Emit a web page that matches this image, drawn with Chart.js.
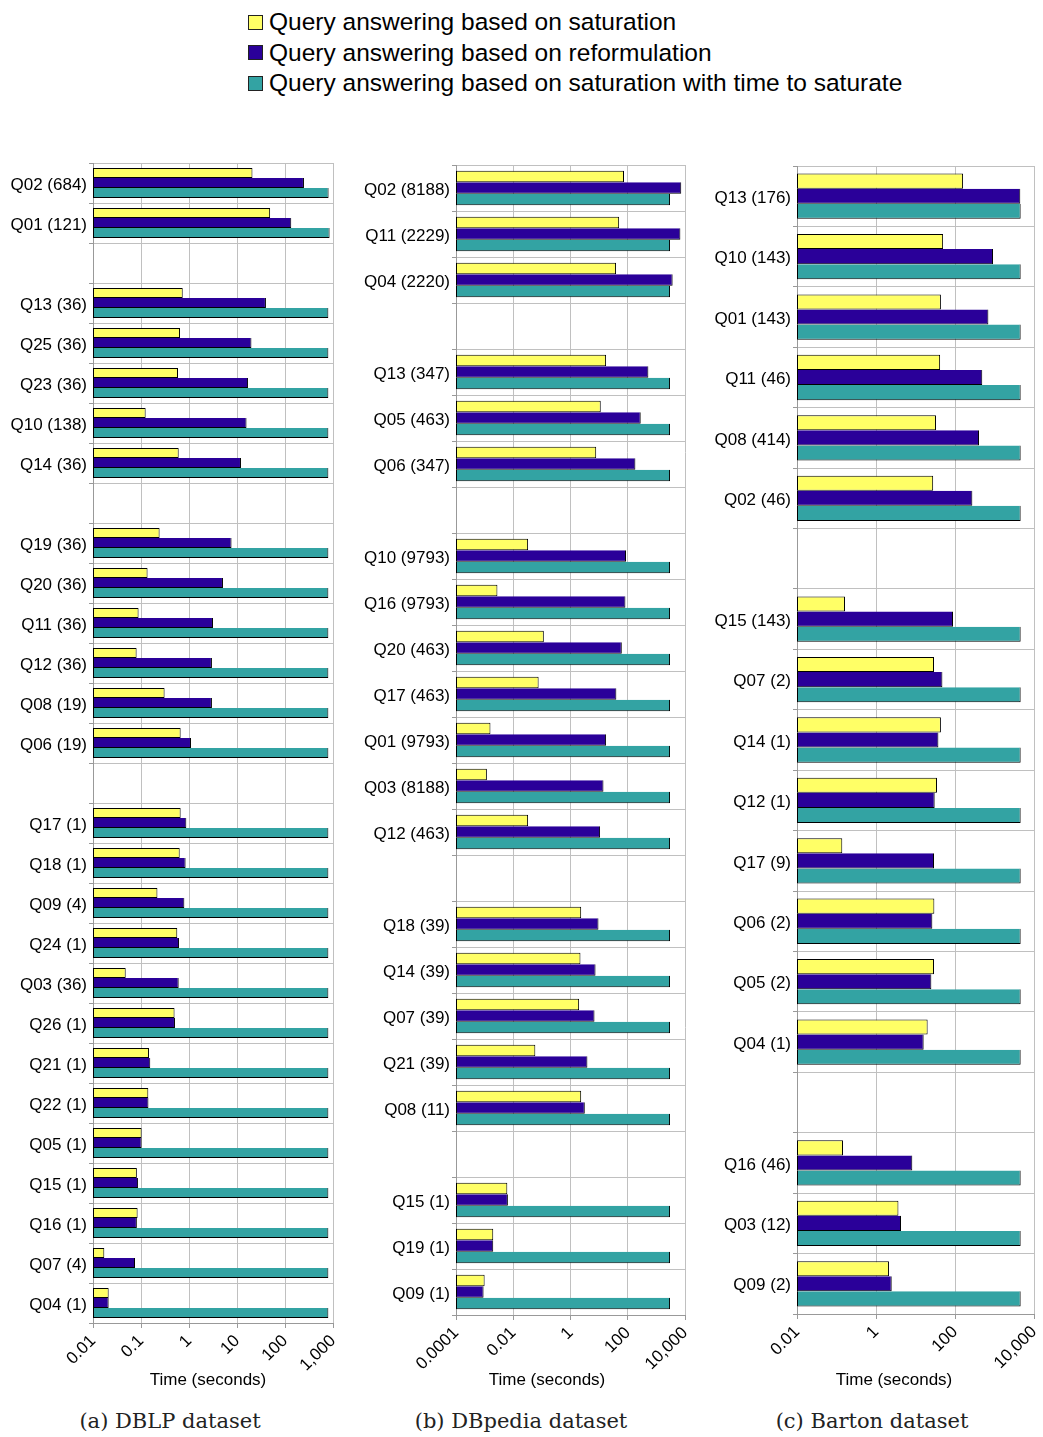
<!DOCTYPE html>
<html>
<head>
<meta charset="utf-8">
<script src="https://cdn.jsdelivr.net/npm/chart.js@4/dist/chart.umd.min.js"></script>
<style>
  html, body { margin: 0; padding: 0; background: #fff; }
  body { width: 1043px; height: 1437px; position: relative; overflow: hidden;
         font-family: "Liberation Sans", Arial, sans-serif; }
  canvas { position: absolute; top: 0; }
  .legend { position: absolute; left: 248px; top: 7px; font-size: 24.5px; color: #000; }
  .legend div { height: 30.5px; display: flex; align-items: center; white-space: nowrap; }
  .legend .box { width: 13px; height: 13px; border: 1px solid #222; margin-right: 6px; flex: none; }
  .axis-title { position: absolute; top: 1369px; line-height: 22px; font-size: 17px; color: #000;
                white-space: nowrap; transform: translateX(-50%); }
  .caption { position: absolute; top: 1408px; line-height: 26px; font-family: "DejaVu Serif", serif;
             font-size: 21px; color: #222; white-space: nowrap; transform: translateX(-50%); }
</style>
</head>
<body>
<div class="legend" id="legend"></div>
<canvas id="dblp"></canvas>
<canvas id="dbpedia"></canvas>
<canvas id="barton"></canvas>
<div class="axis-title" style="left:208px">Time (seconds)</div>
<div class="axis-title" style="left:547px">Time (seconds)</div>
<div class="axis-title" style="left:894px">Time (seconds)</div>
<div class="caption" style="left:170px">(a) DBLP dataset</div>
<div class="caption" style="left:521px">(b) DBpedia dataset</div>
<div class="caption" style="left:872px">(c) Barton dataset</div>
<script>
// Series shared by the three panels
const seriesNames = [
  'Query answering based on saturation',
  'Query answering based on reformulation',
  'Query answering based on saturation with time to saturate'
];
const seriesColors = ['#ffff66', '#2a0099', '#33a3a3'];

// (a) DBLP — query (number of reformulations); empty labels separate the groups
const dblpLabels = ['Q02 (684)', 'Q01 (121)', '', 'Q13 (36)', 'Q25 (36)', 'Q23 (36)', 'Q10 (138)', 'Q14 (36)', '',
  'Q19 (36)', 'Q20 (36)', 'Q11 (36)', 'Q12 (36)', 'Q08 (19)', 'Q06 (19)', '',
  'Q17 (1)', 'Q18 (1)', 'Q09 (4)', 'Q24 (1)', 'Q03 (36)', 'Q26 (1)', 'Q21 (1)', 'Q22 (1)', 'Q05 (1)',
  'Q15 (1)', 'Q16 (1)', 'Q07 (4)', 'Q04 (1)'];
const dblpSaturation = [21, 49, null, 0.74, 0.65, 0.59, 0.125, 0.61, null,
  0.244, 0.137, 0.089, 0.081, 0.31, 0.67, null,
  0.67, 0.64, 0.22, 0.57, 0.048, 0.50, 0.147, 0.142, 0.103, 0.082, 0.085, 0.0172, 0.0212];
const dblpReformulation = [248, 135, null, 40, 20, 17, 15.8, 12.1, null,
  7.7, 5.1, 3.16, 3.0, 3.0, 1.10, null,
  0.88, 0.85, 0.80, 0.62, 0.61, 0.51, 0.156, 0.143, 0.103, 0.087, 0.082, 0.075, 0.0212];
const dblpWithSaturate = [810, 850, null, 800, 800, 800, 800, 800, null,
  800, 800, 800, 800, 800, 800, null,
  800, 800, 800, 800, 800, 800, 800, 800, 800, 800, 800, 800, 800];
const dblpTicks = [0.01, 0.1, 1, 10, 100, 1000];

// (b) DBpedia
const dbpediaLabels = ['Q02 (8188)', 'Q11 (2229)', 'Q04 (2220)', '', 'Q13 (347)', 'Q05 (463)', 'Q06 (347)', '',
  'Q10 (9793)', 'Q16 (9793)', 'Q20 (463)', 'Q17 (463)', 'Q01 (9793)', 'Q03 (8188)', 'Q12 (463)', '',
  'Q18 (39)', 'Q14 (39)', 'Q07 (39)', 'Q21 (39)', 'Q08 (11)', '', 'Q15 (1)', 'Q19 (1)', 'Q09 (1)'];
const dbpediaSaturation = [74, 50, 39, null, 17.5, 11.4, 7.9, null,
  0.033, 0.0028, 0.117, 0.077, 0.0016, 0.0012, 0.033, null,
  2.36, 2.23, 2.0, 0.059, 2.36, null, 0.0062, 0.002, 0.001];
const dbpediaReformulation = [7400, 6900, 3700, null, 525, 284, 185, null,
  87, 83, 62, 40, 17.5, 14.2, 10.8, null,
  9.5, 7.5, 6.9, 3.9, 3.16, null, 0.0065, 0.002, 0.00092];
const dbpediaWithSaturate = [3000, 3000, 3000, null, 3000, 3000, 3000, null,
  3000, 3000, 3000, 3000, 3000, 3000, 3000, null,
  3000, 3000, 3000, 3000, 3000, null, 3000, 3000, 3000];
const dbpediaTicks = [0.0001, 0.01, 1, 100, 10000];

// (c) Barton
const bartonLabels = ['Q13 (176)', 'Q10 (143)', 'Q01 (143)', 'Q11 (46)', 'Q08 (414)', 'Q02 (46)', '',
  'Q15 (143)', 'Q07 (2)', 'Q14 (1)', 'Q12 (1)', 'Q17 (9)', 'Q06 (2)', 'Q05 (2)', 'Q04 (1)', '',
  'Q16 (46)', 'Q03 (12)', 'Q09 (2)'];
const bartonSaturation = [160, 50, 44, 42, 33, 28, null,
  0.164, 29.4, 44, 35, 0.14, 30, 29.4, 20.3, null, 0.146, 3.7, 2.13];
const bartonReformulation = [4500, 916, 700, 490, 405, 275, null,
  89, 48, 38, 30.6, 29.4, 26.7, 25.2, 16.1, null, 8.3, 4.3, 2.5];
const bartonWithSaturate = [4600, 4600, 4600, 4600, 4600, 4600, null,
  4600, 4600, 4600, 4600, 4600, 4600, 4600, 4600, null, 4600, 4600, 4600];
const bartonTicks = [0.01, 1, 100, 10000];

const FONT = '"Liberation Sans", Arial, sans-serif';
const CANVAS_H = 1400;

// legend above the panels
const legendEl = document.getElementById('legend');
seriesNames.forEach((name, i) => {
  const row = document.createElement('div');
  const box = document.createElement('span');
  box.className = 'box';
  box.style.background = seriesColors[i];
  row.appendChild(box);
  row.appendChild(document.createTextNode(name));
  legendEl.appendChild(row);
});

function fmt(v) {
  return Number(v).toLocaleString('en-US', { maximumFractionDigits: 4 });
}

function drawPanel(id, labels, series, ticks, box) {
  const el = document.getElementById(id);
  el.width = box.width;
  el.height = CANVAS_H;
  el.style.left = box.left + 'px';
  el.style.width = box.width + 'px';
  el.style.height = CANVAS_H + 'px';
  new Chart(el, {
    type: 'bar',
    data: {
      labels: labels,
      datasets: series.map((vals, i) => ({
        label: seriesNames[i],
        data: vals,
        backgroundColor: seriesColors[i],
        borderColor: '#000',
        borderWidth: 1,
        borderSkipped: i === 0 ? false : 'top',
        categoryPercentage: 0.75,
        barPercentage: 1
      }))
    },
    options: {
      indexAxis: 'y',
      responsive: false,
      devicePixelRatio: 1,
      animation: false,
      layout: { padding: { top: box.top, right: box.right, bottom: 0, left: 0 } },
      plugins: { legend: { display: false }, tooltip: { enabled: false } },
      scales: {
        x: {
          type: 'logarithmic',
          position: 'bottom',
          min: ticks[0],
          max: ticks[ticks.length - 1],
          grid: { color: '#c0c0c0', tickLength: 5, tickColor: '#999' },
          border: { color: '#999' },
          ticks: {
            font: { family: FONT, size: 17 }, color: '#000',
            minRotation: 45, maxRotation: 45, autoSkip: false, padding: 3,
            callback: v => fmt(v)
          },
          afterBuildTicks: s => { s.ticks = ticks.map(v => ({ value: v })); },
          afterFit: s => { s.height = box.xHeight; s.paddingLeft = 0; s.paddingRight = 0; }
        },
        y: {
          type: 'category',
          offset: true,
          grid: { color: '#c0c0c0', offset: true, tickLength: 4, tickColor: '#999' },
          border: { color: '#999' },
          ticks: { font: { family: FONT, size: 17 }, color: '#000', padding: 2, autoSkip: false, labelOffset: 2 },
          afterFit: s => { s.width = box.yWidth; s.paddingTop = 0; s.paddingBottom = 0; }
        }
      }
    }
  });
}

drawPanel('dblp', dblpLabels, [dblpSaturation, dblpReformulation, dblpWithSaturate], dblpTicks,
  { left: 0, width: 345, yWidth: 93, right: 12, top: 163, xHeight: CANVAS_H - 1323 });
drawPanel('dbpedia', dbpediaLabels, [dbpediaSaturation, dbpediaReformulation, dbpediaWithSaturate], dbpediaTicks,
  { left: 350, width: 350, yWidth: 106, right: 15, top: 165, xHeight: CANVAS_H - 1315 });
drawPanel('barton', bartonLabels, [bartonSaturation, bartonReformulation, bartonWithSaturate], bartonTicks,
  { left: 700, width: 343, yWidth: 97, right: 9, top: 166, xHeight: CANVAS_H - 1314 });
</script>
</body>
</html>
